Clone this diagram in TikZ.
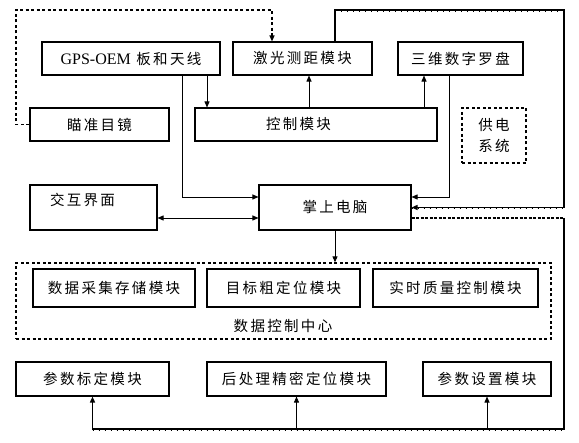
\documentclass[tikz,border=0pt]{standalone}
\usepackage{fontspec}
\setmainfont{Liberation Serif}
\newfontfamily\cjk[LetterSpace=16]{Noto Sans CJK SC}
\usetikzlibrary{calc,arrows.meta}
\tikzset{>={Triangle[length=6pt,width=5pt]}}
\tikzset{box/.style={draw,line width=1.1pt,inner sep=0pt,font=\cjk\fontsize{14.5}{21}\selectfont},
  dbox/.style={box,line width=1.3pt,dash pattern=on 3pt off 2.5pt},
  link/.style={line width=0.9pt},
  bus/.style={line width=1.4pt},
  tick/.style={line width=1pt,dash pattern=on 1pt off 5pt}}

\begin{document}
\begin{tikzpicture}[x=1pt,y=-1pt]
\useasboundingbox (0,0) rectangle (579,443);
% top row
\node[box,minimum width=178pt,minimum height=33pt] (gps) at (131,58.5) {{\rmfamily\fontsize{16}{16}\selectfont GPS-OEM} 板和天线};
\node[box,minimum width=139pt,minimum height=33pt] (laser) at (302.5,58.5) {激光测距模块};
\node[box,minimum width=125pt,minimum height=33pt] (compass) at (460.5,58.5) {三维数字罗盘};
\node[box,minimum width=139pt,minimum height=33pt] (aim) at (99.5,124.5) {瞄准目镜};
\node[box,minimum height=33pt,text width=100pt,align=left,inner xsep=71pt] (ctrl) at (316,124.5) {控制模块};
\node[dbox,minimum width=64pt,minimum height=55pt,align=center] (power) at (494,135.5) {供电\\系统};
% middle
\node[box,text width=87pt,align=left,inner xsep=20pt,inner ysep=4pt,text height=17pt,text depth=20pt] (ui) at (93.5,207.5) {交互界面};
\node[box,minimum width=152pt,minimum height=45pt] (pc) at (335,207.5) {掌上电脑};
\node[dbox,minimum width=535pt,minimum height=76pt] (dcc) at (283.5,301) {};
\node[box,minimum width=162pt,minimum height=38pt] (collect) at (114,288) {数据采集存储模块};
\node[box,minimum width=153pt,minimum height=38pt] (coarse) at (283.5,288) {目标粗定位模块};
\node[box,minimum width=165pt,minimum height=38pt] (quality) at (455.5,288) {实时质量控制模块};
\node[font=\cjk\fontsize{14.5}{16}\selectfont] (dcclabel) at (283,326) {数据控制中心};
% bottom row
\node[box,minimum width=153pt,minimum height=34pt] (calib) at (92.5,379) {参数标定模块};
\node[box,minimum width=179pt,minimum height=34pt] (post) at (296.5,379) {后处理精密定位模块};
\node[box,minimum width=128pt,minimum height=34pt] (param) at (487,379) {参数设置模块};

\coordinate (tl) at (16,10);
\coordinate (tr) at (564,10);
\coordinate (br) at (564,429);
\coordinate (la) at ([xshift=-30.5pt]laser.north);
\coordinate (lt) at ([xshift=32.5pt]laser.north);
\coordinate (lb) at ([xshift=6.5pt]laser.south);
\coordinate (cb) at ([xshift=-36.5pt]compass.south);
\coordinate (cc) at ([xshift=-11.5pt]compass.south);
\coordinate (g1) at ([xshift=51pt]gps.south);
\coordinate (g2) at ([xshift=76pt]gps.south);
\coordinate (pe) at ([yshift=-10.5pt]pc.east);

\draw[link,line width=1.2pt,dash pattern=on 3pt off 2.5pt,->] (aim.west) -| (tl) -| (la);
\draw[link,->] (g2) -- (g2 |- ctrl.north);
\draw[link,->] (g1) |- ([yshift=10.5pt]pc.west);
\draw[link,->] (lb |- ctrl.north) -- (lb);
\draw[link,->] (cb |- ctrl.north) -- (cb);
\draw[link,->] (cc) |- ([yshift=10.5pt]pc.east);
\draw[link,<->] ([yshift=-10.5pt]ui.east) -- ([yshift=-10.5pt]pc.west);
\draw[link,->] (pc.south) -- (pc.south |- dcc.north);
\draw[bus,->] (lt) |- (tr) |- (pc.east);
\draw[link,line width=1.3pt,dash pattern=on 3pt off 1.5pt] (pe) -- (br |- pe);
\draw[bus,->] (br |- pe) -- (br) -| (calib.south);
\draw[link,->] (post.south |- br) -- (post.south);
\draw[link,->] (param.south |- br) -- (param.south);
% ticks under the bus lines
\draw[tick,transform canvas={yshift=-1.4pt}] (lt |- tr) -- (tr);
\draw[tick,transform canvas={yshift=-1.4pt}] (pc.east) -- (tr |- pc.east);
\draw[tick,transform canvas={yshift=-1.4pt}] (calib.south |- br) -- (br);
\end{tikzpicture}
\end{document}
